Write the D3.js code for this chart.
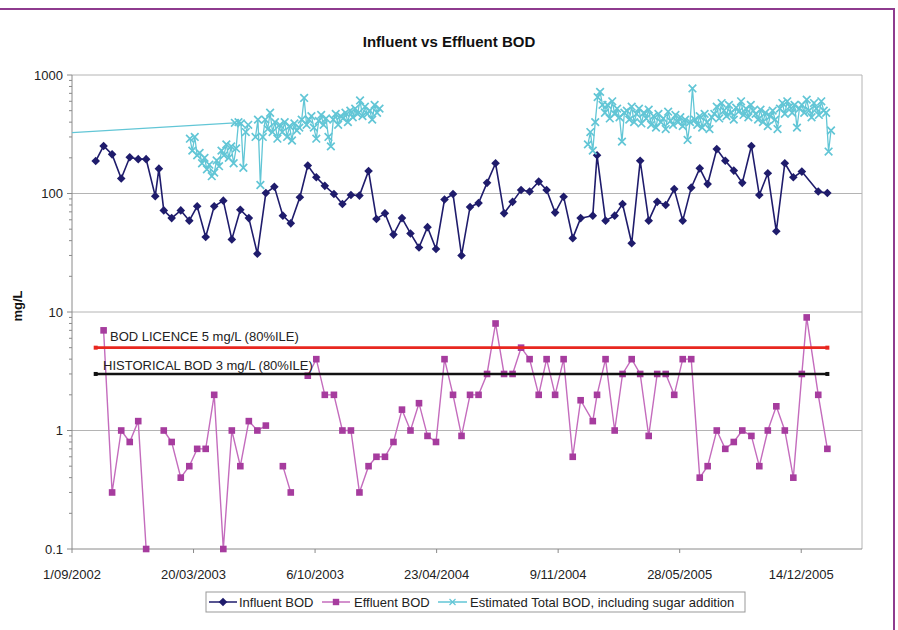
<!DOCTYPE html>
<html><head><meta charset="utf-8">
<script src="https://cdn.jsdelivr.net/npm/d3@7"></script>
<style>body{margin:0;background:#fff}svg{display:block;font-family:"Liberation Sans",Arial,sans-serif}</style>
</head><body><svg id="c" width="898" height="630"></svg>
<script>
// ---------------- data ----------------
const sampleDates = [
"2002-10-10","2002-10-23","2002-11-06","2002-11-21","2002-12-05","2002-12-19","2003-01-01","2003-01-16","2003-01-22","2003-01-30",
"2003-02-12","2003-02-27","2003-03-13","2003-03-26","2003-04-09","2003-04-23","2003-05-08","2003-05-22","2003-06-05","2003-06-19",
"2003-07-03","2003-07-17","2003-07-31","2003-08-14","2003-08-27","2003-09-11","2003-09-24","2003-10-08","2003-10-22","2003-11-06",
"2003-11-20","2003-12-04","2003-12-18","2004-01-02","2004-01-15","2004-01-29","2004-02-12","2004-02-26","2004-03-11","2004-03-25",
"2004-04-08","2004-04-22","2004-05-06","2004-05-20","2004-06-03","2004-06-17","2004-07-01","2004-07-15","2004-07-29","2004-08-12",
"2004-08-26","2004-09-09","2004-09-23","2004-10-08","2004-10-21","2004-11-04","2004-11-18","2004-12-03","2004-12-16","2005-01-05",
"2005-01-12","2005-01-26","2005-02-10","2005-02-23","2005-03-10","2005-03-24","2005-04-07","2005-04-21","2005-05-05","2005-05-19",
"2005-06-02","2005-06-16","2005-06-30","2005-07-13","2005-07-28","2005-08-11","2005-08-25","2005-09-08","2005-09-23","2005-10-06",
"2005-10-20","2005-11-03","2005-11-17","2005-12-01","2005-12-15","2005-12-23","2006-01-11","2006-01-26"];

const influentBOD = [
188,252,214,134,202,195,195,95,162,72,
62,72,59,78,43,78,87,41,73,62,
31,101,114,65,56,93,172,137,116,99,
81.5,97,96,155,61,68,45,62,46,35,
52,34,89,99,30,77,83,123,180,68,
85,107,104,126,107,69,94,42,62,65,
210,59,65,81.5,38,189,59,85,80,109,
59,112,163,120,237,189,156,123,252,97,
148,48,180,137,153,null,104,101];

const effluentBOD = [
null,7,0.3,1.0,0.8,1.2,0.1,null,null,1.0,
0.8,0.4,0.5,0.7,0.7,2.0,0.1,1.0,0.5,1.2,
1.0,1.1,null,0.5,0.3,null,2.9,4.0,2.0,2.0,
1.0,1.0,0.3,0.5,0.6,0.6,0.8,1.5,1.0,1.7,
0.9,0.8,4.0,2.0,0.9,2.0,2.0,3.0,8.0,3.0,
3.0,5.0,4.0,2.0,4.0,2.0,4.0,0.6,1.8,1.2,
2.0,4.0,1.0,3.0,4.0,3.0,0.9,3.0,3.0,2.0,
4.0,4.0,0.4,0.5,1.0,0.7,0.8,1.0,0.9,0.5,
1.0,1.6,1.0,0.4,3.0,9.0,2.0,0.7];

// Estimated total BOD incl. sugar addition (samples every 4 days)
const sugarLeadDates = ["2002-06-01","2003-05-27"];
const sugarLeadBOD = [305,395];
const sugarStart1 = "2003-03-14";
const sugarBOD1 = [290,230,300,210,220,180,200,160,175,140,150,190,170,230,210,260,200,250,180,240,
400,390,165,330,380,null,null,300,420,118,300,420,350,480,330,400,290,380,330,400,
300,370,280,390,340,360,420,640,380,420,450,360,290,410,460,380,430,300,250,420,
470,380,450,430,480,400,500,440,520,470,610,450,540,470,500,420,560,480,520];
const sugarStart2 = "2004-12-28";
const sugarBOD2 = [260,330,230,400,650,720,560,480,560,430,600,470,520,440,274,480,
500,420,540,400,470,520,390,480,430,510,
380,450,360,470,400,430,350,490,410,380,460,400,440,370,420,
283,400,770,420,380,450,360,470,400,350,440,
470,540,430,580,500,450,560,480,420,530,490,600,460,520,440,560,500,470,
420,510,400,480,370,450,500,420,
350,520,580,470,600,540,480,560,360,520,
560,480,620,500,440,580,520,460,600,500,480,226,340];
const sampleStepDays = 4;

const licenceLevel = 5, historicalLevel = 3;
const thresholdDates = ["2002-10-10","2006-01-26"];
const licenceLabel = "BOD LICENCE 5 mg/L (80%ILE)";
const historicalLabel = "HISTORICAL BOD 3 mg/L (80%ILE)";

const xTickLabels = ["1/09/2002","20/03/2003","6/10/2003","23/04/2004","9/11/2004","28/05/2005","14/12/2005"];
const xDomain = ["2002-09-01","2006-03-24"];
const yTicks = [0.1,1,10,100,1000];
const yTickLabels = ["0.1","1","10","100","1000"];
const seriesNames = ["Influent BOD","Effluent BOD","Estimated Total BOD, including sugar addition"];

// ---------------- drawing ----------------
const svg = d3.select("#c");
const P = {l:72, r:862, t:75, b:549};
const iso = d3.utcParse("%Y-%m-%d");
const dmy = d3.utcParse("%d/%m/%Y");
const x = d3.scaleUtc().domain(xDomain.map(iso)).range([P.l, P.r]);
const y = d3.scaleLog().domain([0.1,1000]).range([P.b, P.t]);

const C = {inf:"#1f1c6c", effM:"#a63c9e", effL:"#c46cbd", cyan:"#62c6d6", red:"#e8271f", blk:"#111", grid:"#b4b4b4", axis:"#8a8a8a", frame:"#8e3b8e"};

// outer purple frame
svg.append("path").attr("d", `M0,9H894V630`).attr("fill","none").attr("stroke",C.frame).attr("stroke-width",2);

// title
svg.append("text").attr("x",449).attr("y",47).attr("text-anchor","middle")
  .attr("font-size",15).attr("font-weight","bold").attr("fill","#111").text("Influent vs Effluent BOD");

// gridlines
svg.append("g").selectAll("line").data(yTicks.slice(1)).join("line")
  .attr("x1",P.l).attr("x2",P.r).attr("y1",d=>y(d)).attr("y2",d=>y(d))
  .attr("stroke",C.grid).attr("stroke-width",1);
// right border
svg.append("line").attr("x1",P.r).attr("x2",P.r).attr("y1",P.t).attr("y2",P.b).attr("stroke",C.grid);

// y axis
const yAx = svg.append("g");
yAx.append("line").attr("x1",P.l).attr("x2",P.l).attr("y1",P.t).attr("y2",P.b).attr("stroke",C.axis);
yAx.selectAll(".maj").data(yTicks).join("line").attr("class","maj")
  .attr("x1",P.l-5).attr("x2",P.l).attr("y1",d=>y(d)).attr("y2",d=>y(d)).attr("stroke",C.axis);
const minors = [];
yTicks.slice(0,-1).forEach(d=>{ for(let k=2;k<10;k++) minors.push(d*k); });
yAx.selectAll(".min").data(minors).join("line").attr("class","min")
  .attr("x1",P.l-3).attr("x2",P.l).attr("y1",d=>y(d)).attr("y2",d=>y(d)).attr("stroke",C.axis);
yAx.selectAll("text").data(yTicks).join("text")
  .attr("x",P.l-9).attr("y",d=>y(d)).attr("dy","0.36em").attr("text-anchor","end")
  .attr("font-size",13).attr("fill","#222").text((d,i)=>yTickLabels[i]);
svg.append("text").attr("transform","translate(22,306) rotate(-90)").attr("text-anchor","middle")
  .attr("font-size",13).attr("font-weight","bold").attr("fill","#111").text("mg/L");

// x axis
const xAx = svg.append("g");
xAx.append("line").attr("x1",P.l).attr("x2",P.r).attr("y1",P.b).attr("y2",P.b).attr("stroke",C.axis);
xAx.selectAll("line.t").data(xTickLabels).join("line").attr("class","t")
  .attr("x1",d=>x(dmy(d))).attr("x2",d=>x(dmy(d))).attr("y1",P.b).attr("y2",P.b+4).attr("stroke",C.axis);
xAx.selectAll("text").data(xTickLabels).join("text")
  .attr("x",d=>x(dmy(d))).attr("y",579).attr("text-anchor","middle")
  .attr("font-size",13).attr("fill","#222").text(d=>d);

// clip
svg.append("clipPath").attr("id","pc").append("rect").attr("x",P.l).attr("y",P.t-6).attr("width",P.r-P.l).attr("height",P.b-P.t+12);
const plot = svg.append("g").attr("clip-path","url(#pc)");

const diamond = "M0,-4.3L4.3,0L0,4.3L-4.3,0Z";
const cross = "M-3.8,-3.8L3.8,3.8M-3.8,3.8L3.8,-3.8";

// influent
const infPts = sampleDates.map((d,i)=>({d:iso(d), v:influentBOD[i]})).filter(p=>p.v!=null);
const line = d3.line().x(p=>x(p.d)).y(p=>y(p.v));
plot.append("path").attr("d",line(infPts)).attr("fill","none").attr("stroke",C.inf).attr("stroke-width",1.6);
plot.selectAll(".inf").data(infPts).join("path").attr("class","inf")
  .attr("transform",p=>`translate(${x(p.d)},${y(p.v)})`).attr("d",diamond).attr("fill",C.inf);

// effluent (gaps where no sample)
const effPts = sampleDates.map((d,i)=>({d:iso(d), v:effluentBOD[i]}));
plot.append("path").attr("d",d3.line().defined(p=>p.v!=null).x(p=>x(p.d)).y(p=>y(p.v))(effPts))
  .attr("fill","none").attr("stroke",C.effL).attr("stroke-width",1.4);
plot.selectAll(".eff").data(effPts.filter(p=>p.v!=null)).join("rect").attr("class","eff")
  .attr("x",p=>x(p.d)-3.3).attr("y",p=>y(p.v)-3.3).attr("width",6.6).attr("height",6.6).attr("fill",C.effM);

// estimated total BOD
function run(start, vals){ const s=iso(start); return vals.map((v,i)=>({d:d3.utcDay.offset(s,i*sampleStepDays), v})); }
const sugarRuns = [sugarLeadDates.map((d,i)=>({d:iso(d), v:sugarLeadBOD[i]})), run(sugarStart1,sugarBOD1), run(sugarStart2,sugarBOD2)];
const cyanLine = d3.line().defined(p=>p.v!=null).x(p=>x(p.d)).y(p=>y(p.v));
sugarRuns.forEach(r=>{
  plot.append("path").attr("d",cyanLine(r)).attr("fill","none").attr("stroke",C.cyan).attr("stroke-width",1.3);
  plot.append("g").selectAll("path").data(r.filter(p=>p.v!=null)).join("path")
    .attr("transform",p=>`translate(${x(p.d)},${y(p.v)})`).attr("d",cross)
    .attr("stroke",C.cyan).attr("stroke-width",1.7).attr("fill","none");
});

// threshold lines
[[licenceLevel,C.red],[historicalLevel,C.blk]].forEach(([lv,col])=>{
  const pts = thresholdDates.map(d=>({d:iso(d), v:lv}));
  plot.append("path").attr("d",line(pts)).attr("stroke",col).attr("stroke-width",2.6).attr("fill","none");
  plot.selectAll(null).data(pts).join("rect").attr("x",p=>x(p.d)-2).attr("y",p=>y(p.v)-2)
    .attr("width",4).attr("height",4).attr("fill",col);
});
svg.append("text").attr("x",110).attr("y",y(licenceLevel)-7).attr("font-size",13).attr("fill","#222").text(licenceLabel);
svg.append("text").attr("x",103).attr("y",y(historicalLevel)-4).attr("font-size",13).attr("fill","#222").text(historicalLabel);

// legend
const lg = svg.append("g");
lg.append("rect").attr("x",206).attr("y",592).attr("width",539).attr("height",20).attr("fill","#fff").attr("stroke","#999");
const lgItems = [
  {x0:209, x1:237, tx:239, col:C.inf, mark:"d"},
  {x0:322, x1:350, tx:354, col:C.effL, mark:"s"},
  {x0:438, x1:467, tx:470, col:C.cyan, mark:"x"}];
lgItems.forEach((it,i)=>{
  const cy=602, cx=(it.x0+it.x1)/2;
  lg.append("line").attr("x1",it.x0).attr("x2",it.x1).attr("y1",cy).attr("y2",cy).attr("stroke",it.col).attr("stroke-width",1.5);
  if(it.mark==="d") lg.append("path").attr("transform",`translate(${cx},${cy})`).attr("d",diamond).attr("fill",C.inf);
  if(it.mark==="s") lg.append("rect").attr("x",cx-3.2).attr("y",cy-3.2).attr("width",6.4).attr("height",6.4).attr("fill",C.effM);
  if(it.mark==="x") lg.append("path").attr("transform",`translate(${cx},${cy})`).attr("d","M-3,-3L3,3M-3,3L3,-3").attr("stroke",C.cyan).attr("stroke-width",1.2);
  lg.append("text").attr("x",it.tx).attr("y",cy).attr("dy","0.36em").attr("font-size",13).attr("fill","#222").text(seriesNames[i]);
});
</script></body></html>
